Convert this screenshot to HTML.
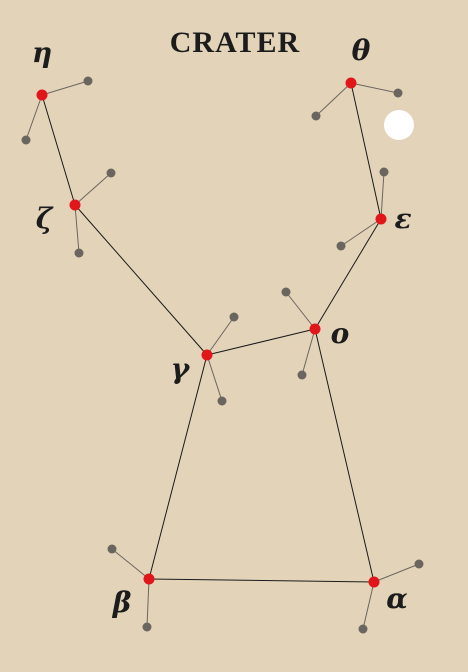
<!DOCTYPE html>
<html><head><meta charset="utf-8"><style>
html,body{margin:0;padding:0;background:#e3d4b9;}
svg{display:block}
text{font-family:"DejaVu Serif","Liberation Serif",serif;font-weight:bold;font-style:italic;fill:#1c1c1c}
</style></head><body>
<svg width="468" height="672" viewBox="0 0 468 672">
<rect width="468" height="672" fill="#e3d4b9"/>
<text x="235" y="52" text-anchor="middle" font-size="30" style="font-style:normal;font-family:'Liberation Serif',serif;letter-spacing:1px">CRATER</text>
<circle cx="399" cy="125" r="15" fill="#ffffff"/>
<g id="g"></g>
</svg>
<script>
const starNames=["eta","zeta","gamma","omicron","epsilon","theta","beta","alpha"];
const starLabels=["η","ζ","γ","o","ε","θ","β","α"];
const starX=[42,75,207,315,381,351,149,374];
const starY=[95,205,355,329,219,83,579,582];
const labelX=[42,44,180,340,403,361,122,397];
const labelY=[62,228,378,343,228,60,612,608];
const edgesFrom=[0,1,2,3,4,2,6,7];
const edgesTo=[1,2,3,4,5,6,7,3];
const faintStar=[0,0,1,1,2,2,3,3,4,4,5,5,6,6,7,7];
const faintX=[88,26,111,79,234,222,286,302,384,341,316,398,112,147,419,363];
const faintY=[81,140,173,253,317,401,292,375,172,246,116,93,549,627,564,629];
const g=document.getElementById('g');
const NS="http://www.w3.org/2000/svg";
function mk(t,a){const e=document.createElementNS(NS,t);for(const k in a)e.setAttribute(k,a[k]);g.appendChild(e);return e;}
for(let i=0;i<faintX.length;i++){
 const s=faintStar[i];
 const l=mk('line',{x1:starX[s],y1:starY[s],x2:faintX[i],y2:faintY[i],stroke:'#6b6560','stroke-width':1});
 
 
 const c=mk('circle',{cx:faintX[i],cy:faintY[i],r:4.5,fill:'#6b6560'});
 
 
}
for(let i=0;i<edgesFrom.length;i++){
 const a=edgesFrom[i],b=edgesTo[i];
 const l=mk('line',{x1:starX[a],y1:starY[a],x2:starX[b],y2:starY[b],stroke:'#1a1a1a','stroke-width':1});
 
 
}
for(let i=0;i<starX.length;i++){
 const c=mk('circle',{cx:starX[i],cy:starY[i],r:5.5,fill:'#e0161b'});
 
 
 const t=mk('text',{x:labelX[i],y:labelY[i],'text-anchor':'middle','font-size':28});
 t.textContent=starLabels[i];
 
 
}
</script>
</body></html>
